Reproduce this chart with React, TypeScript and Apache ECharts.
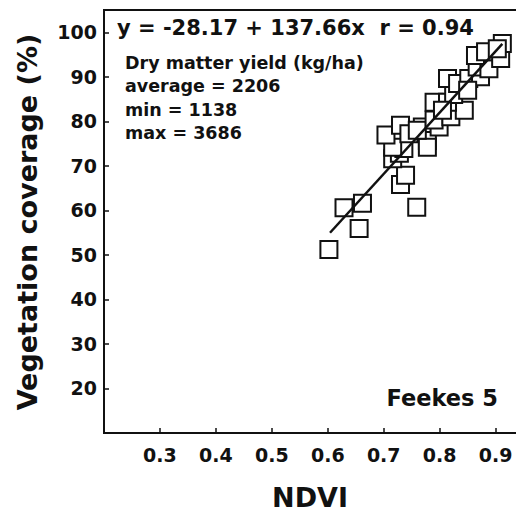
import React, { useEffect, useRef } from "react";
import * as echarts from "echarts";

const ndvi: number[] = [
  0.602, 0.656, 0.629, 0.662, 0.759, 0.730, 0.739, 0.716, 0.728, 0.736,
  0.716, 0.704, 0.730, 0.745, 0.769, 0.778, 0.778, 0.760, 0.799, 0.793,
  0.790, 0.820, 0.844, 0.790, 0.814, 0.825, 0.814, 0.832, 0.852, 0.873,
  0.867, 0.888, 0.864, 0.882, 0.909, 0.912, 0.903, 0.850, 0.805,
];
const coverage: number[] = [
  51.2, 55.9, 60.6, 61.6, 60.7, 65.8, 67.9, 71.6, 72.8, 73.9,
  74.2, 76.9, 79.1, 77.2, 78.7, 75.7, 74.2, 78.0, 78.7, 81.3,
  80.3, 81.0, 82.5, 84.3, 84.3, 86.0, 89.6, 88.5, 89.6, 90.0,
  92.2, 91.8, 94.8, 95.6, 94.1, 97.5, 96.3, 87.0, 82.5,
];
const intercept = -28.17;
const slope = 137.66;
const fitRange: number[] = [0.604, 0.912];
const xTickLabels: string[] = ["0.3", "0.4", "0.5", "0.6", "0.7", "0.8", "0.9"];
const yTickLabels: string[] = ["20", "30", "40", "50", "60", "70", "80", "90", "100"];
const equationText = "y = -28.17 + 137.66x  r = 0.94";
const infoLines: string[] = ["Dry matter yield (kg/ha)", "average = 2206", "min = 1138", "max = 3686"];
const stageText = "Feekes 5";

const FONT = "DejaVu Sans";
const INK = "#111";

export default function App() {
  const ref = useRef<HTMLDivElement>(null);
  useEffect(() => {
    if (!ref.current) return;
    const chart = echarts.init(ref.current, null, { renderer: "svg" });
    const points = ndvi.map((x, i) => [x, coverage[i]]);
    const fit = fitRange.map((x) => [x, intercept + slope * x]);
    const infoY = [63, 86, 110, 133];
    chart.setOption({
      animation: false,
      backgroundColor: "#fff",
      grid: {
        left: 104,
        top: 10,
        bottom: 84,
        right: -2,
        outerBoundsMode: "none",
        containLabel: false,
        show: true,
        borderColor: INK,
        borderWidth: 2,
        backgroundColor: "transparent",
      },
      xAxis: {
        type: "value",
        min: 0.2,
        max: 0.94,
        interval: 0.1,
        splitLine: { show: false },
        axisLine: { show: true, lineStyle: { color: INK, width: 2 } },
        axisTick: { show: true, inside: true, length: 5, lineStyle: { color: INK, width: 1.5 } },
        axisLabel: {
          margin: 12,
          color: INK,
          fontFamily: FONT,
          fontWeight: "bold",
          fontSize: 19,
          formatter: (v: number) => {
            const s = v.toFixed(1);
            return xTickLabels.includes(s) && Math.abs(v - parseFloat(s)) < 1e-6 ? s : "";
          },
        },
      },
      yAxis: {
        type: "value",
        min: 10,
        max: 105,
        interval: 10,
        splitLine: { show: false },
        axisLine: { show: true, lineStyle: { color: INK, width: 2 } },
        axisTick: { show: true, inside: true, length: 5, lineStyle: { color: INK, width: 1.5 } },
        axisLabel: {
          margin: 7,
          color: INK,
          fontFamily: FONT,
          fontWeight: "bold",
          fontSize: 19,
          formatter: (v: number) => (yTickLabels.includes(String(v)) ? String(v) : ""),
        },
      },
      series: [
        {
          type: "scatter",
          data: points,
          symbol: "rect",
          symbolSize: 17,
          itemStyle: { color: "#fff", borderColor: INK, borderWidth: 2, opacity: 1 },
          z: 2,
        },
        {
          type: "line",
          data: fit,
          symbol: "none",
          lineStyle: { color: INK, width: 2.5 },
          z: 3,
        },
      ],
      graphic: [
        {
          type: "text",
          x: 27,
          y: 222,
          rotation: Math.PI / 2,
          style: {
            text: "Vegetation coverage (%)",
            fill: INK,
            font: `bold 27px "${FONT}"`,
            align: "center",
            verticalAlign: "middle",
          },
        },
        {
          type: "text",
          x: 310,
          y: 497,
          style: {
            text: "NDVI",
            fill: INK,
            font: `bold 27px "${FONT}"`,
            align: "center",
            verticalAlign: "middle",
          },
        },
        {
          type: "text",
          x: 117,
          y: 28,
          style: {
            text: equationText,
            fill: INK,
            font: `bold 21px "${FONT}"`,
            align: "left",
            verticalAlign: "middle",
          },
        },
        ...infoLines.map((t, i) => ({
          type: "text",
          x: 125,
          y: infoY[i],
          style: {
            text: t,
            fill: INK,
            font: `bold 17.5px "${FONT}"`,
            align: "left",
            verticalAlign: "middle",
          },
        })),
        {
          type: "text",
          x: 498,
          y: 398,
          style: {
            text: stageText,
            fill: INK,
            font: `bold 22.5px "${FONT}"`,
            align: "right",
            verticalAlign: "middle",
          },
        },
      ],
    });
    return () => chart.dispose();
  }, []);
  return (
    <div
      ref={ref}
      style={{ position: "fixed", left: 0, top: 0, width: 516, height: 517, background: "#fff" }}
    />
  );
}
